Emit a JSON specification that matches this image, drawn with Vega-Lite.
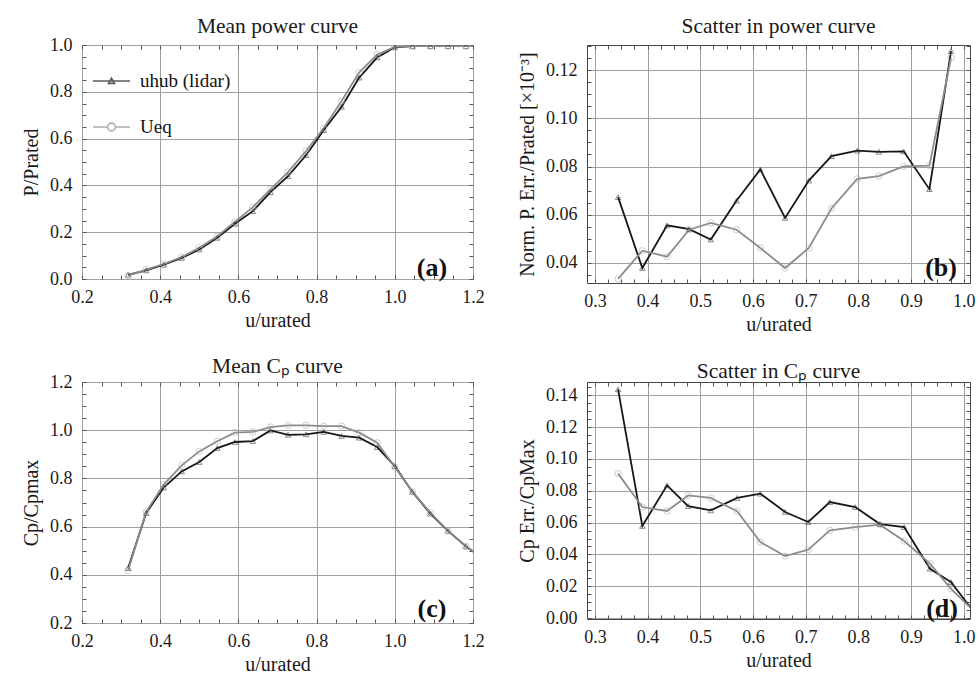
{
  "$schema": "https://vega.github.io/schema/vega-lite/v6.json",
  "background": "white",
  "padding": {"left": 21, "top": 15, "right": 0, "bottom": 0},
  "config": {
    "font": "Liberation Serif",
    "view": {"stroke": "#444", "strokeWidth": 1},
    "style": {"guide-label": {"font": "Liberation Serif"}, "guide-title": {"font": "Liberation Serif"}},
    "title": {"font": "Liberation Serif", "fontSize": 21.5, "fontWeight": "normal", "color": "#1a1a1a"},
    "axis": {
      "labelFont": "Liberation Serif", "labelFontSize": 18, "labelColor": "#1a1a1a",
      "titleFont": "Liberation Serif", "titleFontSize": 20, "titleFontWeight": "normal", "titleColor": "#1a1a1a",
      "tickColor": "#555", "tickSize": -4, "tickWidth": 1,
      "gridColor": "#a0a0a0", "gridWidth": 1,
      "domain": false, "labelFlush": false, "labelOverlap": false
    },
    "axisX": {"labelPadding": 13, "titlePadding": 4},
    "axisY": {"labelPadding": 14, "titlePadding": 8},
    "legend": {"labelFont": "Liberation Serif, serif", "labelFontSize": 19, "labelColor": "#111", "labelOffset": 9, "rowPadding": 0, "clipHeight": 46, "padding": 0, "symbolStrokeWidth": 1.6}
  },
  "datasets": {
    "pa": [
      {"series": "uhub (lidar)", "u": 0.318, "value": 0.018},
      {"series": "uhub (lidar)", "u": 0.364, "value": 0.037},
      {"series": "uhub (lidar)", "u": 0.409, "value": 0.061},
      {"series": "uhub (lidar)", "u": 0.455, "value": 0.09},
      {"series": "uhub (lidar)", "u": 0.5, "value": 0.126},
      {"series": "uhub (lidar)", "u": 0.546, "value": 0.176},
      {"series": "uhub (lidar)", "u": 0.591, "value": 0.236},
      {"series": "uhub (lidar)", "u": 0.637, "value": 0.29},
      {"series": "uhub (lidar)", "u": 0.682, "value": 0.371},
      {"series": "uhub (lidar)", "u": 0.727, "value": 0.44},
      {"series": "uhub (lidar)", "u": 0.773, "value": 0.529},
      {"series": "uhub (lidar)", "u": 0.818, "value": 0.636},
      {"series": "uhub (lidar)", "u": 0.864, "value": 0.736},
      {"series": "uhub (lidar)", "u": 0.909, "value": 0.861},
      {"series": "uhub (lidar)", "u": 0.955, "value": 0.947},
      {"series": "uhub (lidar)", "u": 1.0, "value": 0.99},
      {"series": "uhub (lidar)", "u": 1.045, "value": 0.995},
      {"series": "uhub (lidar)", "u": 1.091, "value": 0.995},
      {"series": "uhub (lidar)", "u": 1.136, "value": 0.995},
      {"series": "uhub (lidar)", "u": 1.182, "value": 0.995},
      {"series": "uhub (lidar)", "u": 1.227, "value": 0.995},
      {"series": "Ueq", "u": 0.318, "value": 0.014},
      {"series": "Ueq", "u": 0.364, "value": 0.04},
      {"series": "Ueq", "u": 0.409, "value": 0.064},
      {"series": "Ueq", "u": 0.455, "value": 0.094},
      {"series": "Ueq", "u": 0.5, "value": 0.133},
      {"series": "Ueq", "u": 0.546, "value": 0.183},
      {"series": "Ueq", "u": 0.591, "value": 0.244},
      {"series": "Ueq", "u": 0.637, "value": 0.307},
      {"series": "Ueq", "u": 0.682, "value": 0.383},
      {"series": "Ueq", "u": 0.727, "value": 0.457},
      {"series": "Ueq", "u": 0.773, "value": 0.547},
      {"series": "Ueq", "u": 0.818, "value": 0.644},
      {"series": "Ueq", "u": 0.864, "value": 0.761},
      {"series": "Ueq", "u": 0.909, "value": 0.883},
      {"series": "Ueq", "u": 0.955, "value": 0.959},
      {"series": "Ueq", "u": 1.0, "value": 0.992},
      {"series": "Ueq", "u": 1.045, "value": 0.995},
      {"series": "Ueq", "u": 1.091, "value": 0.995},
      {"series": "Ueq", "u": 1.136, "value": 0.995},
      {"series": "Ueq", "u": 1.182, "value": 0.995},
      {"series": "Ueq", "u": 1.227, "value": 0.995}
    ],
    "pb": [
      {"series": "uhub (lidar)", "u": 0.344, "value": 0.0673},
      {"series": "uhub (lidar)", "u": 0.39, "value": 0.0379},
      {"series": "uhub (lidar)", "u": 0.437, "value": 0.0556},
      {"series": "uhub (lidar)", "u": 0.479, "value": 0.054},
      {"series": "uhub (lidar)", "u": 0.52, "value": 0.0497},
      {"series": "uhub (lidar)", "u": 0.569, "value": 0.0659},
      {"series": "uhub (lidar)", "u": 0.614, "value": 0.0788},
      {"series": "uhub (lidar)", "u": 0.661, "value": 0.0587},
      {"series": "uhub (lidar)", "u": 0.706, "value": 0.0742},
      {"series": "uhub (lidar)", "u": 0.749, "value": 0.0843},
      {"series": "uhub (lidar)", "u": 0.798, "value": 0.0866},
      {"series": "uhub (lidar)", "u": 0.839, "value": 0.0861},
      {"series": "uhub (lidar)", "u": 0.886, "value": 0.0863},
      {"series": "uhub (lidar)", "u": 0.935, "value": 0.0706},
      {"series": "uhub (lidar)", "u": 0.976, "value": 0.1279},
      {"series": "Ueq", "u": 0.344, "value": 0.0334},
      {"series": "Ueq", "u": 0.39, "value": 0.0451},
      {"series": "Ueq", "u": 0.437, "value": 0.0426},
      {"series": "Ueq", "u": 0.479, "value": 0.0538},
      {"series": "Ueq", "u": 0.52, "value": 0.0566},
      {"series": "Ueq", "u": 0.569, "value": 0.0538},
      {"series": "Ueq", "u": 0.614, "value": 0.0462},
      {"series": "Ueq", "u": 0.661, "value": 0.0379},
      {"series": "Ueq", "u": 0.706, "value": 0.0462},
      {"series": "Ueq", "u": 0.749, "value": 0.0626},
      {"series": "Ueq", "u": 0.798, "value": 0.0749},
      {"series": "Ueq", "u": 0.839, "value": 0.076},
      {"series": "Ueq", "u": 0.886, "value": 0.0801},
      {"series": "Ueq", "u": 0.935, "value": 0.0804},
      {"series": "Ueq", "u": 0.976, "value": 0.1251}
    ],
    "pc": [
      {"series": "uhub (lidar)", "u": 0.318, "value": 0.428},
      {"series": "uhub (lidar)", "u": 0.364, "value": 0.656},
      {"series": "uhub (lidar)", "u": 0.409, "value": 0.762},
      {"series": "uhub (lidar)", "u": 0.455, "value": 0.829},
      {"series": "uhub (lidar)", "u": 0.5, "value": 0.868},
      {"series": "uhub (lidar)", "u": 0.546, "value": 0.926},
      {"series": "uhub (lidar)", "u": 0.591, "value": 0.951},
      {"series": "uhub (lidar)", "u": 0.637, "value": 0.955},
      {"series": "uhub (lidar)", "u": 0.682, "value": 0.999},
      {"series": "uhub (lidar)", "u": 0.727, "value": 0.981},
      {"series": "uhub (lidar)", "u": 0.773, "value": 0.983},
      {"series": "uhub (lidar)", "u": 0.818, "value": 0.993},
      {"series": "uhub (lidar)", "u": 0.864, "value": 0.976},
      {"series": "uhub (lidar)", "u": 0.909, "value": 0.969},
      {"series": "uhub (lidar)", "u": 0.955, "value": 0.93},
      {"series": "uhub (lidar)", "u": 1.0, "value": 0.851},
      {"series": "uhub (lidar)", "u": 1.045, "value": 0.744},
      {"series": "uhub (lidar)", "u": 1.091, "value": 0.654},
      {"series": "uhub (lidar)", "u": 1.136, "value": 0.582},
      {"series": "uhub (lidar)", "u": 1.182, "value": 0.518},
      {"series": "uhub (lidar)", "u": 1.227, "value": 0.465},
      {"series": "Ueq", "u": 0.318, "value": 0.419},
      {"series": "Ueq", "u": 0.364, "value": 0.661},
      {"series": "Ueq", "u": 0.409, "value": 0.774},
      {"series": "Ueq", "u": 0.455, "value": 0.854},
      {"series": "Ueq", "u": 0.5, "value": 0.912},
      {"series": "Ueq", "u": 0.546, "value": 0.954},
      {"series": "Ueq", "u": 0.591, "value": 0.99},
      {"series": "Ueq", "u": 0.637, "value": 0.993},
      {"series": "Ueq", "u": 0.682, "value": 1.013},
      {"series": "Ueq", "u": 0.727, "value": 1.02},
      {"series": "Ueq", "u": 0.773, "value": 1.02},
      {"series": "Ueq", "u": 0.818, "value": 1.017},
      {"series": "Ueq", "u": 0.864, "value": 1.017},
      {"series": "Ueq", "u": 0.909, "value": 0.99},
      {"series": "Ueq", "u": 0.955, "value": 0.948},
      {"series": "Ueq", "u": 1.0, "value": 0.847},
      {"series": "Ueq", "u": 1.045, "value": 0.744},
      {"series": "Ueq", "u": 1.091, "value": 0.658},
      {"series": "Ueq", "u": 1.136, "value": 0.582},
      {"series": "Ueq", "u": 1.182, "value": 0.518},
      {"series": "Ueq", "u": 1.227, "value": 0.465}
    ],
    "pd": [
      {"series": "uhub (lidar)", "u": 0.344, "value": 0.1438},
      {"series": "uhub (lidar)", "u": 0.39, "value": 0.0579},
      {"series": "uhub (lidar)", "u": 0.437, "value": 0.0834},
      {"series": "uhub (lidar)", "u": 0.477, "value": 0.0704},
      {"series": "uhub (lidar)", "u": 0.52, "value": 0.0677},
      {"series": "uhub (lidar)", "u": 0.57, "value": 0.0755},
      {"series": "uhub (lidar)", "u": 0.614, "value": 0.0782},
      {"series": "uhub (lidar)", "u": 0.661, "value": 0.0667},
      {"series": "uhub (lidar)", "u": 0.705, "value": 0.0604},
      {"series": "uhub (lidar)", "u": 0.746, "value": 0.0729},
      {"series": "uhub (lidar)", "u": 0.794, "value": 0.0698},
      {"series": "uhub (lidar)", "u": 0.841, "value": 0.0591},
      {"series": "uhub (lidar)", "u": 0.887, "value": 0.0572},
      {"series": "uhub (lidar)", "u": 0.936, "value": 0.031},
      {"series": "uhub (lidar)", "u": 0.976, "value": 0.0226},
      {"series": "uhub (lidar)", "u": 1.022, "value": 0.0027},
      {"series": "Ueq", "u": 0.344, "value": 0.0908},
      {"series": "Ueq", "u": 0.39, "value": 0.0698},
      {"series": "Ueq", "u": 0.437, "value": 0.0673},
      {"series": "Ueq", "u": 0.477, "value": 0.0771},
      {"series": "Ueq", "u": 0.52, "value": 0.0755},
      {"series": "Ueq", "u": 0.57, "value": 0.0671},
      {"series": "Ueq", "u": 0.614, "value": 0.0478},
      {"series": "Ueq", "u": 0.661, "value": 0.039},
      {"series": "Ueq", "u": 0.705, "value": 0.043},
      {"series": "Ueq", "u": 0.746, "value": 0.0551},
      {"series": "Ueq", "u": 0.794, "value": 0.0572},
      {"series": "Ueq", "u": 0.841, "value": 0.0587},
      {"series": "Ueq", "u": 0.887, "value": 0.0484},
      {"series": "Ueq", "u": 0.936, "value": 0.0342},
      {"series": "Ueq", "u": 0.976, "value": 0.0184},
      {"series": "Ueq", "u": 1.022, "value": 0.0036}
    ]
  },
  "columns": 2,
  "bounds": "flush",
  "spacing": {"row": 99, "column": 114},
  "resolve": {"scale": {"color": "independent", "shape": "independent"}},
  "concat": [
    {
      "width": 391, "height": 234,
      "title": {"text": "Mean power curve", "offset": -1},
      "data": {"name": "pa"},
      "layer": [
        {
          "transform": [{"filter": "datum.series == 'uhub (lidar)'"}],
          "mark": {"type": "line", "clip": true, "strokeWidth": 1.8, "color": "#161616"},
          "encoding": {
            "x": {"field": "u", "type": "quantitative", "scale": {"domain": [0.2, 1.2], "nice": false, "zero": false},
              "axis": {"orient": "bottom", "title": "u/urated",
                "values": [0.2,0.25,0.3,0.35,0.4,0.45,0.5,0.55,0.6,0.65,0.7,0.75,0.8,0.85,0.9,0.95,1,1.05,1.1,1.15,1.2],
                "labelExpr": "abs(datum.value/0.2-round(datum.value/0.2))<0.000001 ? format(datum.value,'.1f') : ''",
                "gridOpacity": {"condition": {"test": "abs(datum.value/0.2-round(datum.value/0.2))<0.000001", "value": 1}, "value": 0}}},
            "y": {"field": "value", "type": "quantitative", "scale": {"domain": [0, 1], "nice": false, "zero": false},
              "axis": {"orient": "left", "title": "P/Prated",
                "values": [0,0.05,0.1,0.15,0.2,0.25,0.3,0.35,0.4,0.45,0.5,0.55,0.6,0.65,0.7,0.75,0.8,0.85,0.9,0.95,1],
                "labelExpr": "abs(datum.value/0.2-round(datum.value/0.2))<0.000001 ? format(datum.value,'.1f') : ''",
                "gridOpacity": {"condition": {"test": "abs(datum.value/0.2-round(datum.value/0.2))<0.000001", "value": 1}, "value": 0}}}
          }
        },
        {
          "transform": [{"filter": "datum.series == 'Ueq'"}],
          "mark": {"type": "line", "clip": true, "strokeWidth": 1.8, "color": "#8c8c8c"},
          "encoding": {
            "x": {"field": "u", "type": "quantitative", "axis": null},
            "y": {"field": "value", "type": "quantitative", "axis": null}
          }
        },
        {
          "transform": [{"filter": "datum.series == 'uhub (lidar)'"}],
          "mark": {"type": "point", "shape": "triangle-up", "filled": false, "size": 30, "strokeWidth": 0.8, "color": "#333", "clip": true},
          "encoding": {
            "x": {"field": "u", "type": "quantitative", "axis": {"orient": "top", "title": null, "labels": false, "grid": false,
              "values": [0.2,0.25,0.3,0.35,0.4,0.45,0.5,0.55,0.6,0.65,0.7,0.75,0.8,0.85,0.9,0.95,1,1.05,1.1,1.15,1.2]}},
            "y": {"field": "value", "type": "quantitative", "axis": {"orient": "right", "title": null, "labels": false, "grid": false,
              "values": [0,0.05,0.1,0.15,0.2,0.25,0.3,0.35,0.4,0.45,0.5,0.55,0.6,0.65,0.7,0.75,0.8,0.85,0.9,0.95,1]}}
          }
        },
        {
          "transform": [{"filter": "datum.series == 'Ueq'"}],
          "mark": {"type": "point", "shape": "circle", "filled": false, "size": 40, "strokeWidth": 0.8, "color": "#a8a8a8", "clip": true},
          "encoding": {
            "x": {"field": "u", "type": "quantitative", "axis": null},
            "y": {"field": "value", "type": "quantitative", "axis": null}
          }
        },
        {
          "transform": [{"filter": "false"}],
          "mark": {"type": "point", "filled": false, "strokeWidth": 1.6, "font": "Liberation Serif"},
          "encoding": {
            "color": {"field": "series", "type": "nominal",
              "scale": {"domain": ["uhub (lidar)", "Ueq"], "range": ["#161616", "#8c8c8c"]},
              "legend": {"title": null, "orient": "none", "legendX": 10, "legendY": 13, "padding": 0, "symbolSize": 1369, "symbolStrokeWidth": 1.6, "labelFont": "Liberation Serif, serif", "labelFontSize": 19, "labelColor": "#111", "labelOffset": 9, "rowPadding": 0, "clipHeight": 46}},
            "shape": {"field": "series", "type": "nominal",
              "scale": {"domain": ["uhub (lidar)", "Ueq"], "range": ["M-1,0H1M-0.16,0.13L0,-0.15L0.16,0.13Z", "M-1,0H-0.21M0.21,0H1M0.21,0A0.21,0.21,0,1,1,-0.21,0A0.21,0.21,0,1,1,0.21,0Z"]},
              "legend": {"title": null, "orient": "none", "legendX": 10, "legendY": 13, "padding": 0, "symbolSize": 1369, "symbolStrokeWidth": 1.6, "labelFont": "Liberation Serif, serif", "labelFontSize": 19, "labelColor": "#111", "labelOffset": 9, "rowPadding": 0, "clipHeight": 46}}
          }
        },
        {
          "data": {"values": [{"tag": "(a)"}]},
          "mark": {"type": "text", "font": "Liberation Serif", "fontWeight": "bold", "fontSize": 26, "color": "#111"},
          "encoding": {
            "x": {"datum": 1.095, "type": "quantitative", "axis": null},
            "y": {"datum": 0.047, "type": "quantitative", "axis": null},
            "text": {"field": "tag"}
          }
        }
      ]
    },
    {
      "width": 383, "height": 238,
      "title": {"text": "Scatter in power curve", "offset": -1},
      "data": {"name": "pb"},
      "layer": [
        {
          "transform": [{"filter": "datum.series == 'uhub (lidar)'"}],
          "mark": {"type": "line", "clip": true, "strokeWidth": 1.8, "color": "#161616"},
          "encoding": {
            "x": {"field": "u", "type": "quantitative", "scale": {"domain": [0.285, 1.012], "nice": false, "zero": false},
              "axis": {"orient": "bottom", "title": "u/urated",
                "values": [0.3,0.325,0.35,0.375,0.4,0.425,0.45,0.475,0.5,0.525,0.55,0.575,0.6,0.625,0.65,0.675,0.7,0.725,0.75,0.775,0.8,0.825,0.85,0.875,0.9,0.925,0.95,0.975,1],
                "labelExpr": "abs(datum.value/0.1-round(datum.value/0.1))<0.000001 ? format(datum.value,'.1f') : ''",
                "gridOpacity": {"condition": {"test": "abs(datum.value/0.1-round(datum.value/0.1))<0.000001", "value": 1}, "value": 0}}},
            "y": {"field": "value", "type": "quantitative", "scale": {"domain": [0.0317, 0.1304], "nice": false, "zero": false},
              "axis": {"orient": "left", "title": "Norm. P. Err./Prated [×10⁻³]",
                "values": [0.035,0.04,0.045,0.05,0.055,0.06,0.065,0.07,0.075,0.08,0.085,0.09,0.095,0.1,0.105,0.11,0.115,0.12,0.125,0.13],
                "labelExpr": "abs(datum.value/0.02-round(datum.value/0.02))<0.000001 ? format(datum.value,'.2f') : ''",
                "gridOpacity": {"condition": {"test": "abs(datum.value/0.02-round(datum.value/0.02))<0.000001", "value": 1}, "value": 0}}}
          }
        },
        {
          "transform": [{"filter": "datum.series == 'Ueq'"}],
          "mark": {"type": "line", "clip": true, "strokeWidth": 1.8, "color": "#8c8c8c"},
          "encoding": {
            "x": {"field": "u", "type": "quantitative", "axis": null},
            "y": {"field": "value", "type": "quantitative", "axis": null}
          }
        },
        {
          "transform": [{"filter": "datum.series == 'uhub (lidar)'"}],
          "mark": {"type": "point", "shape": "triangle-up", "filled": false, "size": 30, "strokeWidth": 0.8, "color": "#333", "clip": true},
          "encoding": {
            "x": {"field": "u", "type": "quantitative", "axis": {"orient": "top", "title": null, "labels": false, "grid": false,
              "values": [0.3,0.325,0.35,0.375,0.4,0.425,0.45,0.475,0.5,0.525,0.55,0.575,0.6,0.625,0.65,0.675,0.7,0.725,0.75,0.775,0.8,0.825,0.85,0.875,0.9,0.925,0.95,0.975,1]}},
            "y": {"field": "value", "type": "quantitative", "axis": {"orient": "right", "title": null, "labels": false, "grid": false,
              "values": [0.035,0.04,0.045,0.05,0.055,0.06,0.065,0.07,0.075,0.08,0.085,0.09,0.095,0.1,0.105,0.11,0.115,0.12,0.125,0.13]}}
          }
        },
        {
          "transform": [{"filter": "datum.series == 'Ueq'"}],
          "mark": {"type": "point", "shape": "circle", "filled": false, "size": 40, "strokeWidth": 0.8, "color": "#a8a8a8", "clip": true},
          "encoding": {
            "x": {"field": "u", "type": "quantitative", "axis": null},
            "y": {"field": "value", "type": "quantitative", "axis": null}
          }
        },
        {
          "data": {"values": [{"tag": "(b)"}]},
          "mark": {"type": "text", "font": "Liberation Serif", "fontWeight": "bold", "fontSize": 26, "color": "#111"},
          "encoding": {
            "x": {"datum": 0.957, "type": "quantitative", "axis": null},
            "y": {"datum": 0.0379, "type": "quantitative", "axis": null},
            "text": {"field": "tag"}
          }
        }
      ]
    },
    {
      "width": 391, "height": 241,
      "title": {"text": "Mean Cₚ curve", "offset": -4},
      "data": {"name": "pc"},
      "layer": [
        {
          "transform": [{"filter": "datum.series == 'uhub (lidar)'"}],
          "mark": {"type": "line", "clip": true, "strokeWidth": 1.8, "color": "#161616"},
          "encoding": {
            "x": {"field": "u", "type": "quantitative", "scale": {"domain": [0.2, 1.2], "nice": false, "zero": false},
              "axis": {"orient": "bottom", "title": "u/urated",
                "values": [0.2,0.25,0.3,0.35,0.4,0.45,0.5,0.55,0.6,0.65,0.7,0.75,0.8,0.85,0.9,0.95,1,1.05,1.1,1.15,1.2],
                "labelExpr": "abs(datum.value/0.2-round(datum.value/0.2))<0.000001 ? format(datum.value,'.1f') : ''",
                "gridOpacity": {"condition": {"test": "abs(datum.value/0.2-round(datum.value/0.2))<0.000001", "value": 1}, "value": 0}}},
            "y": {"field": "value", "type": "quantitative", "scale": {"domain": [0.2, 1.2], "nice": false, "zero": false},
              "axis": {"orient": "left", "title": "Cp/Cpmax",
                "values": [0.2,0.25,0.3,0.35,0.4,0.45,0.5,0.55,0.6,0.65,0.7,0.75,0.8,0.85,0.9,0.95,1,1.05,1.1,1.15,1.2],
                "labelExpr": "abs(datum.value/0.2-round(datum.value/0.2))<0.000001 ? format(datum.value,'.1f') : ''",
                "gridOpacity": {"condition": {"test": "abs(datum.value/0.2-round(datum.value/0.2))<0.000001", "value": 1}, "value": 0}}}
          }
        },
        {
          "transform": [{"filter": "datum.series == 'Ueq'"}],
          "mark": {"type": "line", "clip": true, "strokeWidth": 1.8, "color": "#8c8c8c"},
          "encoding": {
            "x": {"field": "u", "type": "quantitative", "axis": null},
            "y": {"field": "value", "type": "quantitative", "axis": null}
          }
        },
        {
          "transform": [{"filter": "datum.series == 'uhub (lidar)'"}],
          "mark": {"type": "point", "shape": "triangle-up", "filled": false, "size": 30, "strokeWidth": 0.8, "color": "#333", "clip": true},
          "encoding": {
            "x": {"field": "u", "type": "quantitative", "axis": {"orient": "top", "title": null, "labels": false, "grid": false,
              "values": [0.2,0.25,0.3,0.35,0.4,0.45,0.5,0.55,0.6,0.65,0.7,0.75,0.8,0.85,0.9,0.95,1,1.05,1.1,1.15,1.2]}},
            "y": {"field": "value", "type": "quantitative", "axis": {"orient": "right", "title": null, "labels": false, "grid": false,
              "values": [0.2,0.25,0.3,0.35,0.4,0.45,0.5,0.55,0.6,0.65,0.7,0.75,0.8,0.85,0.9,0.95,1,1.05,1.1,1.15,1.2]}}
          }
        },
        {
          "transform": [{"filter": "datum.series == 'Ueq'"}],
          "mark": {"type": "point", "shape": "circle", "filled": false, "size": 40, "strokeWidth": 0.8, "color": "#a8a8a8", "clip": true},
          "encoding": {
            "x": {"field": "u", "type": "quantitative", "axis": null},
            "y": {"field": "value", "type": "quantitative", "axis": null}
          }
        },
        {
          "data": {"values": [{"tag": "(c)"}]},
          "mark": {"type": "text", "font": "Liberation Serif", "fontWeight": "bold", "fontSize": 26, "color": "#111"},
          "encoding": {
            "x": {"datum": 1.095, "type": "quantitative", "axis": null},
            "y": {"datum": 0.259, "type": "quantitative", "axis": null},
            "text": {"field": "tag"}
          }
        }
      ]
    },
    {
      "width": 383, "height": 237,
      "title": {"text": "Scatter in Cₚ curve", "offset": -4},
      "data": {"name": "pd"},
      "layer": [
        {
          "transform": [{"filter": "datum.series == 'uhub (lidar)'"}],
          "mark": {"type": "line", "clip": true, "strokeWidth": 1.8, "color": "#161616"},
          "encoding": {
            "x": {"field": "u", "type": "quantitative", "scale": {"domain": [0.285, 1.012], "nice": false, "zero": false},
              "axis": {"orient": "bottom", "title": "u/urated",
                "values": [0.3,0.325,0.35,0.375,0.4,0.425,0.45,0.475,0.5,0.525,0.55,0.575,0.6,0.625,0.65,0.675,0.7,0.725,0.75,0.775,0.8,0.825,0.85,0.875,0.9,0.925,0.95,0.975,1],
                "labelExpr": "abs(datum.value/0.1-round(datum.value/0.1))<0.000001 ? format(datum.value,'.1f') : ''",
                "gridOpacity": {"condition": {"test": "abs(datum.value/0.1-round(datum.value/0.1))<0.000001", "value": 1}, "value": 0}}},
            "y": {"field": "value", "type": "quantitative", "scale": {"domain": [-0.0006, 0.1484], "nice": false, "zero": false},
              "axis": {"orient": "left", "title": "Cp Err./CpMax",
                "values": [0,0.005,0.01,0.015,0.02,0.025,0.03,0.035,0.04,0.045,0.05,0.055,0.06,0.065,0.07,0.075,0.08,0.085,0.09,0.095,0.1,0.105,0.11,0.115,0.12,0.125,0.13,0.135,0.14,0.145],
                "labelExpr": "abs(datum.value/0.02-round(datum.value/0.02))<0.000001 ? format(datum.value,'.2f') : ''",
                "gridOpacity": {"condition": {"test": "abs(datum.value/0.02-round(datum.value/0.02))<0.000001", "value": 1}, "value": 0}}}
          }
        },
        {
          "transform": [{"filter": "datum.series == 'Ueq'"}],
          "mark": {"type": "line", "clip": true, "strokeWidth": 1.8, "color": "#8c8c8c"},
          "encoding": {
            "x": {"field": "u", "type": "quantitative", "axis": null},
            "y": {"field": "value", "type": "quantitative", "axis": null}
          }
        },
        {
          "transform": [{"filter": "datum.series == 'uhub (lidar)'"}],
          "mark": {"type": "point", "shape": "triangle-up", "filled": false, "size": 30, "strokeWidth": 0.8, "color": "#333", "clip": true},
          "encoding": {
            "x": {"field": "u", "type": "quantitative", "axis": {"orient": "top", "title": null, "labels": false, "grid": false,
              "values": [0.3,0.325,0.35,0.375,0.4,0.425,0.45,0.475,0.5,0.525,0.55,0.575,0.6,0.625,0.65,0.675,0.7,0.725,0.75,0.775,0.8,0.825,0.85,0.875,0.9,0.925,0.95,0.975,1]}},
            "y": {"field": "value", "type": "quantitative", "axis": {"orient": "right", "title": null, "labels": false, "grid": false,
              "values": [0,0.005,0.01,0.015,0.02,0.025,0.03,0.035,0.04,0.045,0.05,0.055,0.06,0.065,0.07,0.075,0.08,0.085,0.09,0.095,0.1,0.105,0.11,0.115,0.12,0.125,0.13,0.135,0.14,0.145]}}
          }
        },
        {
          "transform": [{"filter": "datum.series == 'Ueq'"}],
          "mark": {"type": "point", "shape": "circle", "filled": false, "size": 40, "strokeWidth": 0.8, "color": "#a8a8a8", "clip": true},
          "encoding": {
            "x": {"field": "u", "type": "quantitative", "axis": null},
            "y": {"field": "value", "type": "quantitative", "axis": null}
          }
        },
        {
          "data": {"values": [{"tag": "(d)"}]},
          "mark": {"type": "text", "font": "Liberation Serif", "fontWeight": "bold", "fontSize": 26, "color": "#111"},
          "encoding": {
            "x": {"datum": 0.959, "type": "quantitative", "axis": null},
            "y": {"datum": 0.0059, "type": "quantitative", "axis": null},
            "text": {"field": "tag"}
          }
        }
      ]
    }
  ]
}
